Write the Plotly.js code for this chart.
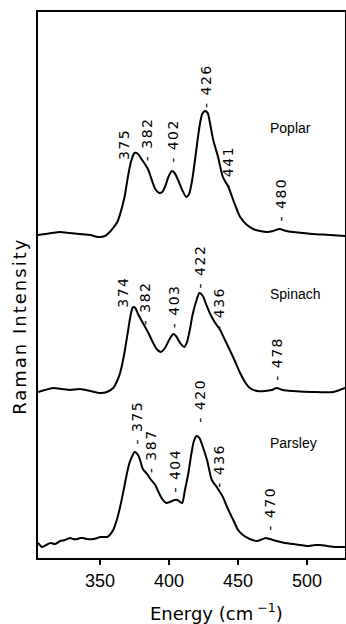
<!DOCTYPE html>
<html>
<head>
<meta charset="utf-8">
<script src="https://cdn.plot.ly/plotly-3.0.1.min.js"></script>
<style>
  html, body { margin: 0; padding: 0; background: #fff; }
  #chart { width: 346px; height: 624px; }
</style>
</head>
<body>
<div id="chart"></div>
<script>
// Raman spectra of three leaf samples, stacked with vertical offsets.
// Energy in cm^-1, intensity in arbitrary units relative to each baseline.

const poplarEnergy = [305, 310, 315, 321, 328, 335, 343, 348.5, 353.5, 357, 360, 362.5, 364.5, 366.5, 368, 370, 371.5, 373, 375, 377.5, 379, 381, 382.5, 385, 386.5, 388.5, 390, 393, 395, 397, 399.5, 402, 404, 406.5, 409.5, 412.5, 414.5, 416.5, 418.5, 420, 422, 424, 426, 428, 429.5, 432, 435.5, 439, 443, 447, 451.5, 456.5, 461, 466, 471, 475.5, 480, 485, 490, 497, 504, 517, 527.5];
const poplarIntensity = [0, 1, 2, 3, 2, 1, 0, -2, -1, 3, 8, 13, 21, 31, 40, 57, 68, 76, 82, 81, 78, 74, 71, 65, 59, 51, 46, 42, 43, 48, 58, 64, 62, 55, 45, 38, 41, 53, 72, 88, 108, 121, 124, 122, 113, 95, 78, 58, 48, 33, 18, 10, 6, 4, 3, 4, 6, 4, 3, 2, 1, 0, -1];

const spinachEnergy = [305, 310, 316, 322.5, 328, 335.5, 343, 350, 355, 359.5, 362, 364.5, 366.5, 368, 370, 371.5, 373, 374, 375.5, 377.5, 381, 385, 388.5, 391, 394, 397, 400, 403, 405, 408, 411, 413, 415, 417, 419.5, 422, 424.5, 426.5, 429.5, 433, 437, 440.5, 444, 448, 451.5, 455, 458.5, 464, 469.5, 474.5, 478, 482.5, 490, 504, 519, 527.5];
const spinachIntensity = [0, 2, 4, 3, 2, 3, 1, -1, 0, 4, 10, 19, 31, 42, 59, 72, 82, 85, 84, 78, 69, 59, 49, 43, 40, 44, 52, 58, 56, 49, 45, 50, 62, 77, 90, 99, 96, 89, 79, 70, 62, 52, 42, 30, 19, 10, 4, 1, 1, 2, 4, 2, 1, 0, 0, 4];

const parsleyEnergy = [305, 308, 311, 314, 317.5, 321, 324.5, 328.5, 330.5, 333.5, 335.5, 337.5, 340.5, 345, 348, 350, 353, 355, 357, 359.5, 362.5, 364.5, 367.5, 369.5, 371.5, 373, 375, 377.5, 379, 381, 384, 387, 390, 392, 395, 398, 400.5, 404, 406, 408, 409.5, 411.5, 414, 416, 418, 420, 422, 424, 427.5, 431, 435, 439, 442, 446.5, 450, 453.5, 458.5, 464, 470, 473, 478, 484, 490, 495, 500, 506, 509.5, 514.5, 520.5, 527.5];
const parsleyIntensity = [3, -1, 1, 3, 2, 5, 6, 8, 7, 7, 8, 8, 7, 7, 8, 9, 9, 9, 11, 16, 28, 39, 59, 73, 84, 89, 94, 91, 86, 77, 72, 66, 61, 55, 47, 43, 44, 46, 46, 44, 43, 56, 73, 91, 105, 110, 108, 101, 86, 66, 58, 49, 39, 26, 16, 11, 7, 5, 8, 7, 5, 3, 2, 1, 0, 1, 1, 0, -1, -1];

// vertical offset of each trace's baseline on the stacked plot
const sampleNames = ['Poplar', 'Spinach', 'Parsley'];
const sampleOffsets = [323, 166, 12];

// peak labels: band energies (cm^-1) for each sample
const poplarPeaks = [375, 382, 402, 426, 441, 480];
const spinachPeaks = [374, 382, 403, 422, 436, 478];
const parsleyPeaks = [375, 387, 404, 420, 436, 470];

// x-axis ticks
const tickValues = [350, 400, 450, 500];
const tickLabels = ['350', '400', '450', '500'];

// label placement (bottom edge of each rotated label, plot units) and small shifts
const peakLabelLayout = {
  Poplar:  { bottom: [396, 395, 393, 448, 366, 335], dx: [-11, 3, 1, 1, 2, 2], dash: [false, true, true, true, true, true] },
  Spinach: { bottom: [248, 231, 228, 268, 225, 175], dx: [-11, 1, 1, 1, 0, 0], dash: [false, true, true, true, true, true] },
  Parsley: { bottom: [111, 83, 63, 133, 68, 25],     dx: [2, 0, 0, 3, 0, 4],    dash: [true, true, true, true, true, true] }
};
const nameLabelY = [430, 264, 115];

const energies = [poplarEnergy, spinachEnergy, parsleyEnergy];
const intensities = [poplarIntensity, spinachIntensity, parsleyIntensity];
const peaks = [poplarPeaks, spinachPeaks, parsleyPeaks];

const traces = sampleNames.map((name, i) => ({
  type: 'scatter',
  mode: 'lines',
  name: name,
  x: energies[i],
  y: intensities[i].map(v => v + sampleOffsets[i]),
  line: { color: '#000', width: 2, shape: 'spline', smoothing: 0.7 },
  hoverinfo: 'x+name'
}));

const peakFont = { family: 'DejaVu Sans, sans-serif', size: 14, color: '#000' };
const annotations = [];

sampleNames.forEach((name, i) => {
  const place = peakLabelLayout[name];
  peaks[i].forEach((p, k) => {
    const txt = (place.dash[k] ? '- ' : '') + p;
    annotations.push({
      x: p, y: place.bottom[k], xref: 'x', yref: 'y',
      text: '<span style="letter-spacing:1.5px">' + txt + '</span>',
      textangle: -90, showarrow: false,
      xanchor: 'center', yanchor: 'bottom',
      xshift: place.dx[k],
      font: peakFont
    });
  });
  annotations.push({
    x: 471.5, y: nameLabelY[i], xref: 'x', yref: 'y',
    text: name, showarrow: false, xanchor: 'left', yanchor: 'middle',
    font: { family: 'Liberation Sans, Arial, sans-serif', size: 14, color: '#000' }
  });
});

// axis titles
annotations.push({
  x: 0.58, y: -0.099, xref: 'paper', yref: 'paper',
  text: 'Energy (cm<sup> \u22121</sup>)', showarrow: false,
  xanchor: 'center', yanchor: 'middle',
  font: { family: 'DejaVu Sans, sans-serif', size: 18, color: '#000' }
});
annotations.push({
  x: -0.059, y: 0.425, xref: 'paper', yref: 'paper',
  text: '<span style="letter-spacing:2px">Raman Intensity</span>', showarrow: false,
  textangle: -90, xanchor: 'center', yanchor: 'middle',
  font: { family: 'DejaVu Sans, sans-serif', size: 18, color: '#000' }
});

const layout = {
  width: 346, height: 624,
  margin: { l: 38, r: 1, t: 12, b: 66 },
  paper_bgcolor: '#fff', plot_bgcolor: '#fff',
  showlegend: false,
  xaxis: {
    range: [305, 527.5],
    tickmode: 'array', tickvals: tickValues, ticktext: tickLabels,
    ticks: 'outside', ticklen: 5, tickwidth: 1.5, tickcolor: '#000',
    showline: true, linewidth: 2, linecolor: '#000', mirror: true,
    showgrid: false, zeroline: false,
    tickfont: { family: 'Liberation Sans Narrow, Arial Narrow, Liberation Sans, sans-serif', size: 18, color: '#000' }
  },
  yaxis: {
    range: [0, 546],
    showticklabels: false, ticks: '',
    showline: true, linewidth: 2, linecolor: '#000', mirror: true,
    showgrid: false, zeroline: false
  },
  annotations: annotations
};

Plotly.newPlot('chart', traces, layout, { staticPlot: true, displayModeBar: false });
</script>
</body>
</html>
